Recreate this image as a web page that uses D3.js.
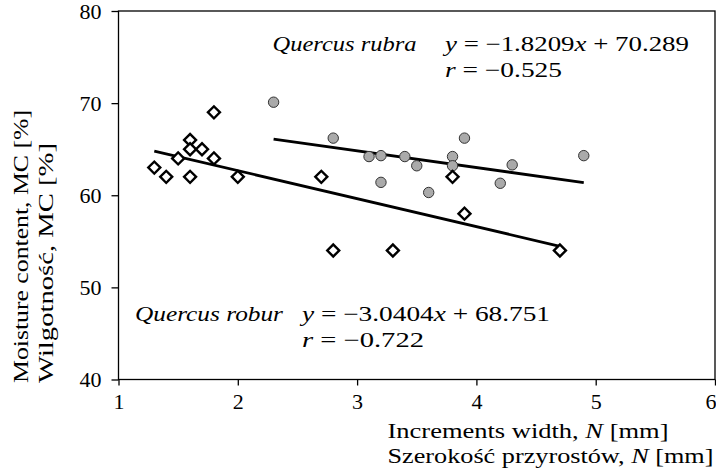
<!DOCTYPE html>
<meta charset="utf-8">
<style>
body { margin: 0; background: #fff; }
text { font-family: "Liberation Serif", serif; fill: #000; }
</style>
<html>
<body>
<script src="https://cdn.jsdelivr.net/npm/d3@7"></script>
<script>
// Quercus robur (diamonds)
var roburX = [1.3, 1.4, 1.5, 1.6, 1.6, 1.6, 1.7, 1.8, 1.8, 2.0, 2.7, 2.8, 3.3, 3.8, 3.9, 4.7];
var roburY = [63, 62, 64, 62, 66, 65, 65, 64, 69, 62, 62, 54, 54, 62, 58, 54];
// Quercus rubra (grey circles)
var rubraX = [2.3, 2.8, 3.1, 3.2, 3.4, 3.5, 3.2, 3.6, 3.8, 3.8, 3.9, 4.2, 4.3, 4.9];
var rubraY = [70.1, 66.2, 64.2, 64.3, 64.2, 63.2, 61.4, 60.3, 64.2, 63.2, 66.2, 61.3, 63.3, 64.3];

// fitted lines: slope, intercept
var roburFit = [-3.0404, 68.751];
var rubraFit = [-1.8209, 70.289];
var roburR = "−0.722";
var rubraR = "−0.525";

var xTicks = [1, 2, 3, 4, 5, 6];
var yTicks = [40, 50, 60, 70, 80];

var W = 716, H = 472;
var plot = {left: 118.5, right: 715, top: 11, bottom: 379.5};

var svg = d3.select("body").append("svg")
    .attr("width", W)
    .attr("height", H);

var x = d3.scaleLinear().domain([1, 6]).range([plot.left, plot.right]);
var y = d3.scaleLinear().domain([40, 80]).range([plot.bottom, plot.top]);

// frame
svg.append("rect")
  .attr("x", plot.left).attr("y", plot.top)
  .attr("width", plot.right - plot.left).attr("height", plot.bottom - plot.top)
  .attr("fill", "none").attr("stroke", "#000").attr("stroke-width", 1.3);

var xAxis = svg.append("g")
  .attr("transform", "translate(0," + plot.bottom + ")")
  .call(d3.axisBottom(x).tickValues(xTicks).tickSize(6).tickPadding(8).tickFormat(d3.format("d")));
var yAxis = svg.append("g")
  .attr("transform", "translate(" + plot.left + ",0)")
  .call(d3.axisLeft(y).tickValues(yTicks).tickSize(7).tickPadding(10).tickFormat(d3.format("d")));
[xAxis, yAxis].forEach(function(g) {
  g.attr("font-family", "Liberation Serif").attr("font-size", 22);
  g.select(".domain").remove();
  g.selectAll(".tick line").attr("stroke", "#000").attr("stroke-width", 1.3);
  g.selectAll(".tick text").attr("fill", "#000");
});
// last label sits on the page edge
xAxis.selectAll(".tick text").filter(function(d) { return d === 6; })
  .attr("text-anchor", "end").attr("x", 1);

// regression lines
function fitLine(xs, fit) {
  var ext = d3.extent(xs);
  return ext.map(function(v) { return [x(v), y(fit[0] * v + fit[1])]; });
}
svg.append("path")
  .attr("d", d3.line()(fitLine(rubraX, rubraFit)))
  .attr("stroke", "#000").attr("stroke-width", 2.8).attr("fill", "none");
svg.append("path")
  .attr("d", d3.line()(fitLine(roburX, roburFit)))
  .attr("stroke", "#000").attr("stroke-width", 2.8).attr("fill", "none");

// points
svg.selectAll("circle.rubra")
  .data(d3.zip(rubraX, rubraY))
  .enter().append("circle")
  .attr("class", "rubra")
  .attr("cx", function(d) { return x(d[0]); })
  .attr("cy", function(d) { return y(d[1]); })
  .attr("r", 5.2)
  .attr("fill", "#aaaaaa")
  .attr("stroke", "#333")
  .attr("stroke-width", 1);

var diamond = d3.symbol().type(d3.symbolSquare).size(72);
svg.selectAll("path.robur")
  .data(d3.zip(roburX, roburY))
  .enter().append("path")
  .attr("class", "robur")
  .attr("d", diamond)
  .attr("transform", function(d) { return "translate(" + x(d[0]) + "," + y(d[1]) + ")rotate(45)"; })
  .attr("fill", "#fff")
  .attr("stroke", "#000")
  .attr("stroke-width", 2.4);

// text helper: parts = [[string, italic?], ...]
function label(px, py, parts, len, rot) {
  var t = svg.append("text")
    .attr("font-size", 21)
    .attr("transform", "translate(" + px + "," + py + ")" + (rot ? "rotate(-90)" : ""));
  parts.forEach(function(p) {
    t.append("tspan").attr("font-style", p[1] ? "italic" : "normal").text(p[0]);
  });
  if (len) t.attr("textLength", len).attr("lengthAdjust", "spacingAndGlyphs");
  return t;
}

function eq(fit) {
  var s = d3.format(".4f")(-fit[0]);
  return [["y", true], [" = −" + s, false], ["x", true], [" + " + fit[1], false]];
}

// annotations
label(272.5, 51, [["Quercus rubra", true]], 144);
label(445, 51, eq(rubraFit), 244);
label(445, 77, [["r", true], [" = " + rubraR, false]], 117);
label(135, 321, [["Quercus robur", true]], 148);
label(302, 321, eq(roburFit), 248);
label(302, 347, [["r", true], [" = " + roburR, false]], 122);

// axis titles
label(387.5, 438, [["Increments width, ", false], ["N", true], [" [mm]", false]], 281);
label(387.5, 463, [["Szerokość przyrostów, ", false], ["N", true], [" [mm]", false]], 326);
label(28, 383, [["Moisture content, MC [%]", false]], 273, true);
label(53, 383, [["Wilgotność, MC [%]", false]], 240, true);
</script>
</body>
</html>
